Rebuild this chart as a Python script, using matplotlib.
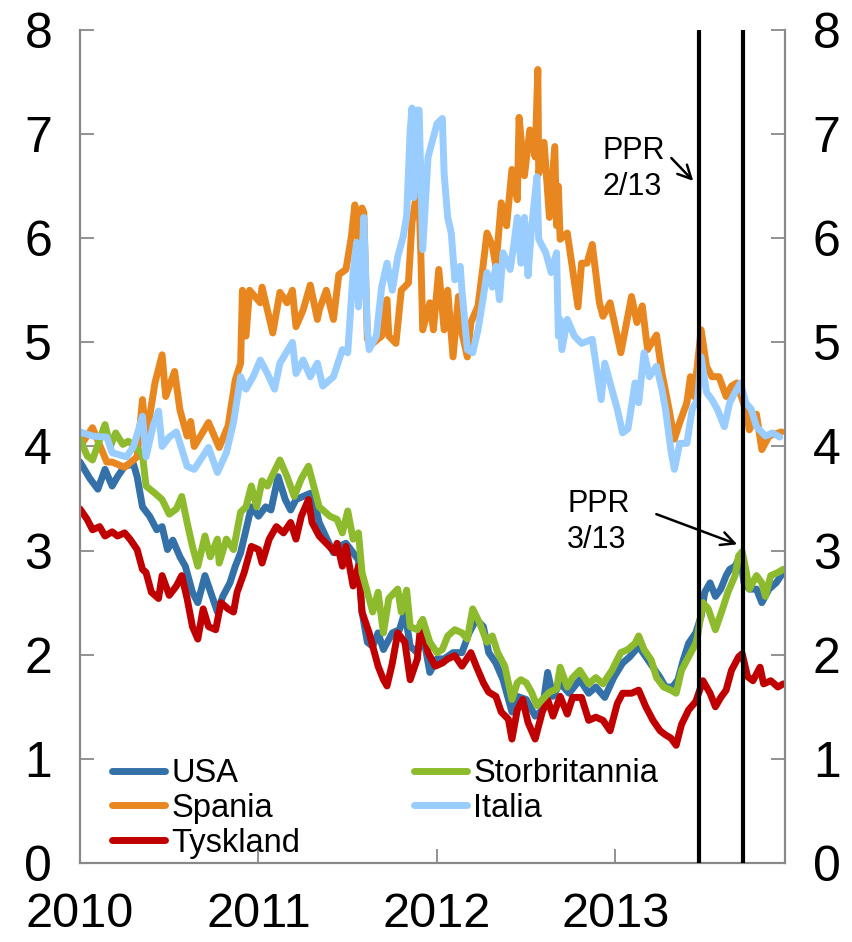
import matplotlib
matplotlib.use("Agg")
import matplotlib.pyplot as plt

plt.rcParams.update({
    "font.family": ["Liberation Sans", "DejaVu Sans"],
})

# ---------------------------------------------------------------------------
# Data: 10-year government bond yields (decimal years)
# ---------------------------------------------------------------------------

usa_t = [2010.00, 2010.056, 2010.10, 2010.14, 2010.18, 2010.21, 2010.25, 2010.30, 2010.32, 2010.35,
         2010.39, 2010.43, 2010.46, 2010.49, 2010.52, 2010.56, 2010.59, 2010.63, 2010.66, 2010.70,
         2010.74, 2010.77, 2010.80, 2010.84, 2010.87, 2010.90, 2010.93, 2010.96, 2011.00, 2011.04,
         2011.07, 2011.11, 2011.15, 2011.18, 2011.21, 2011.25, 2011.29, 2011.32, 2011.34, 2011.42,
         2011.45, 2011.49, 2011.53, 2011.56, 2011.58, 2011.61, 2011.64, 2011.67, 2011.70, 2011.75,
         2011.79, 2011.82, 2011.85, 2011.89, 2011.92, 2011.96, 2012.00, 2012.04, 2012.09, 2012.14,
         2012.18, 2012.22, 2012.26, 2012.29, 2012.33, 2012.37, 2012.42, 2012.45, 2012.50, 2012.55,
         2012.59, 2012.62, 2012.65, 2012.69, 2012.74, 2012.80, 2012.85, 2012.89, 2012.94, 2012.99,
         2013.04, 2013.08, 2013.13, 2013.17, 2013.21, 2013.25, 2013.28, 2013.32, 2013.35, 2013.38,
         2013.41, 2013.45, 2013.48, 2013.50, 2013.53, 2013.56, 2013.59, 2013.62, 2013.64, 2013.67,
         2013.70, 2013.72, 2013.75, 2013.79, 2013.82, 2013.86, 2013.90, 2013.94]
usa_v = [3.85, 3.69, 3.59, 3.78, 3.62, 3.71, 3.81, 3.83, 3.71, 3.42,
         3.33, 3.20, 3.23, 3.01, 3.10, 2.94, 2.85, 2.60, 2.50, 2.76,
         2.56, 2.41, 2.56, 2.69, 2.85, 2.98, 3.20, 3.42, 3.33, 3.42,
         3.39, 3.71, 3.49, 3.39, 3.49, 3.52, 3.55, 3.42, 3.27, 2.98,
         3.04, 3.07, 2.98, 2.91, 2.41, 2.12, 2.08, 2.21, 2.05, 2.21,
         2.24, 2.41, 2.08, 2.02, 2.21, 1.83, 1.96, 1.96, 2.02, 2.02,
         2.21, 2.34, 2.27, 2.02, 1.92, 1.76, 1.45, 1.60, 1.57, 1.41,
         1.47, 1.83, 1.60, 1.73, 1.63, 1.76, 1.63, 1.69, 1.59, 1.78,
         1.92, 1.98, 2.08, 1.98, 1.88, 1.78, 1.69, 1.69, 1.76, 1.95,
         2.11, 2.21, 2.37, 2.60, 2.69, 2.56, 2.63, 2.76, 2.82, 2.85,
         2.95, 2.69, 2.63, 2.63, 2.50, 2.63, 2.69, 2.79]

spania_t = [2010.00, 2010.07, 2010.15, 2010.18, 2010.25, 2010.32, 2010.35, 2010.37, 2010.42, 2010.46,
            2010.48, 2010.53, 2010.56, 2010.60, 2010.62, 2010.64, 2010.72, 2010.78, 2010.83, 2010.87,
            2010.90, 2010.91, 2010.93, 2010.95, 2011.01, 2011.02, 2011.08, 2011.12, 2011.16, 2011.19,
            2011.21, 2011.25, 2011.29, 2011.33, 2011.34, 2011.38, 2011.42, 2011.45, 2011.49, 2011.52,
            2011.54, 2011.56, 2011.58, 2011.59, 2011.61, 2011.64, 2011.69, 2011.72, 2011.73, 2011.77,
            2011.80, 2011.84, 2011.86, 2011.88, 2011.895, 2011.91, 2011.92, 2011.96, 2011.98, 2012.01,
            2012.04, 2012.06, 2012.09, 2012.12, 2012.14, 2012.17, 2012.19, 2012.23, 2012.26, 2012.28,
            2012.31, 2012.33, 2012.36, 2012.39, 2012.42, 2012.45, 2012.46, 2012.49, 2012.52, 2012.55,
            2012.565, 2012.57, 2012.60, 2012.63, 2012.66, 2012.67, 2012.68, 2012.69, 2012.73, 2012.76,
            2012.79, 2012.81, 2012.84, 2012.87, 2012.91, 2012.93, 2012.97, 2013.01, 2013.03, 2013.09,
            2013.12, 2013.15, 2013.18, 2013.23, 2013.26, 2013.30, 2013.33, 2013.36, 2013.40, 2013.42,
            2013.44, 2013.48, 2013.51, 2013.54, 2013.58, 2013.62, 2013.65, 2013.68, 2013.73, 2013.75,
            2013.79, 2013.82, 2013.86, 2013.93]
spania_v = [4.00, 4.18, 3.85, 3.85, 3.80, 3.90, 4.45, 4.07, 4.61, 4.88,
            4.48, 4.72, 4.35, 4.10, 4.24, 4.00, 4.23, 3.99, 4.20, 4.64,
            4.80, 5.50, 5.06, 5.50, 5.38, 5.53, 5.09, 5.48, 5.38, 5.50,
            5.15, 5.31, 5.55, 5.22, 5.31, 5.50, 5.22, 5.65, 5.70, 6.01,
            6.32, 5.99, 6.29, 6.25, 5.03, 4.99, 5.06, 5.41, 5.06, 4.99,
            5.50, 5.57, 6.15, 6.37, 6.61, 5.82, 5.12, 5.38, 5.12, 5.70,
            5.12, 5.50, 4.86, 5.44, 5.09, 4.86, 5.19, 5.35, 5.76, 6.05,
            5.93, 5.73, 6.34, 6.12, 6.66, 6.37, 7.16, 6.60, 7.04, 6.78,
            7.62, 6.62, 6.92, 6.20, 6.88, 6.12, 6.50, 5.99, 6.05, 5.70,
            5.34, 5.76, 5.76, 5.94, 5.38, 5.25, 5.38, 5.06, 4.90, 5.44,
            5.19, 5.35, 4.93, 5.07, 4.71, 4.36, 4.07, 4.23, 4.42, 4.67,
            4.48, 5.12, 4.77, 4.67, 4.67, 4.48, 4.58, 4.61, 4.35, 4.16,
            4.31, 3.97, 4.10, 4.14]

tyskland_t = [2010.00, 2010.04, 2010.07, 2010.11, 2010.14, 2010.18, 2010.21, 2010.25, 2010.28, 2010.32,
              2010.35, 2010.37, 2010.40, 2010.44, 2010.46, 2010.50, 2010.54, 2010.57, 2010.60, 2010.63,
              2010.66, 2010.69, 2010.72, 2010.76, 2010.79, 2010.83, 2010.86, 2010.88, 2010.92, 2010.96,
              2011.00, 2011.02, 2011.06, 2011.10, 2011.14, 2011.18, 2011.21, 2011.24, 2011.28, 2011.30,
              2011.34, 2011.38, 2011.43, 2011.44, 2011.47, 2011.49, 2011.53, 2011.56, 2011.58, 2011.62,
              2011.67, 2011.70, 2011.72, 2011.75, 2011.78, 2011.82, 2011.85, 2011.89, 2011.91, 2011.95,
              2011.99, 2012.03, 2012.06, 2012.10, 2012.14, 2012.19, 2012.22, 2012.26, 2012.29, 2012.33,
              2012.36, 2012.40, 2012.42, 2012.45, 2012.48, 2012.51, 2012.55, 2012.59, 2012.62, 2012.65,
              2012.69, 2012.73, 2012.76, 2012.81, 2012.85, 2012.89, 2012.93, 2012.97, 2013.01, 2013.04,
              2013.09, 2013.13, 2013.17, 2013.21, 2013.25, 2013.28, 2013.31, 2013.34, 2013.37, 2013.41,
              2013.45, 2013.49, 2013.53, 2013.56, 2013.59, 2013.62, 2013.65, 2013.69, 2013.71, 2013.74,
              2013.77, 2013.81, 2013.83, 2013.87, 2013.91, 2013.94]
tyskland_v = [3.40, 3.30, 3.20, 3.23, 3.14, 3.18, 3.14, 3.17, 3.11, 3.01,
              2.82, 2.79, 2.60, 2.54, 2.76, 2.57, 2.66, 2.76, 2.54, 2.27,
              2.15, 2.44, 2.27, 2.24, 2.50, 2.44, 2.41, 2.60, 2.79, 3.04,
              3.01, 2.88, 3.11, 3.23, 3.17, 3.27, 3.11, 3.33, 3.49, 3.27,
              3.14, 3.07, 2.98, 3.07, 2.85, 3.04, 2.66, 2.85, 2.41, 2.21,
              1.89, 1.76, 1.70, 1.92, 2.21, 2.12, 1.76, 1.96, 2.31, 2.02,
              1.89, 1.92, 1.96, 1.99, 1.89, 2.02, 1.89, 1.73, 1.64, 1.60,
              1.45, 1.38, 1.19, 1.47, 1.57, 1.35, 1.19, 1.45, 1.57, 1.41,
              1.60, 1.43, 1.59, 1.59, 1.37, 1.40, 1.37, 1.27, 1.53, 1.63,
              1.63, 1.66, 1.50, 1.37, 1.27, 1.23, 1.20, 1.13, 1.33, 1.47,
              1.55, 1.75, 1.63, 1.50, 1.59, 1.66, 1.85, 1.98, 2.01, 1.79,
              1.75, 1.88, 1.72, 1.75, 1.69, 1.72]

storbritannia_t = [2010.00, 2010.04, 2010.07, 2010.14, 2010.17, 2010.20, 2010.24, 2010.27, 2010.31, 2010.35,
                   2010.37, 2010.42, 2010.46, 2010.50, 2010.54, 2010.57, 2010.60, 2010.63, 2010.66, 2010.70,
                   2010.73, 2010.77, 2010.78, 2010.82, 2010.86, 2010.90, 2010.93, 2010.96, 2010.99, 2011.02,
                   2011.05, 2011.08, 2011.12, 2011.16, 2011.20, 2011.24, 2011.28, 2011.32, 2011.34, 2011.40,
                   2011.44, 2011.47, 2011.50, 2011.53, 2011.56, 2011.58, 2011.61, 2011.64, 2011.67, 2011.70,
                   2011.73, 2011.78, 2011.80, 2011.83, 2011.85, 2011.89, 2011.92, 2011.96, 2012.00, 2012.03,
                   2012.06, 2012.10, 2012.14, 2012.17, 2012.20, 2012.24, 2012.28, 2012.31, 2012.34, 2012.38,
                   2012.42, 2012.45, 2012.47, 2012.50, 2012.53, 2012.56, 2012.59, 2012.63, 2012.67, 2012.69,
                   2012.73, 2012.76, 2012.80, 2012.85, 2012.89, 2012.93, 2012.98, 2013.03, 2013.07, 2013.11,
                   2013.13, 2013.16, 2013.20, 2013.23, 2013.27, 2013.31, 2013.34, 2013.37, 2013.41, 2013.45,
                   2013.46, 2013.49, 2013.52, 2013.56, 2013.60, 2013.63, 2013.67, 2013.69, 2013.71, 2013.73,
                   2013.75, 2013.79, 2013.82, 2013.84, 2013.87, 2013.91, 2013.94]
storbritannia_v = [4.07, 3.91, 3.87, 4.21, 4.00, 4.13, 4.02, 4.05, 4.00, 3.92,
                   3.62, 3.55, 3.49, 3.35, 3.40, 3.52, 3.27, 3.04, 2.85, 3.14,
                   2.94, 3.11, 2.88, 3.11, 3.01, 3.37, 3.42, 3.62, 3.42, 3.67,
                   3.62, 3.73, 3.87, 3.71, 3.52, 3.69, 3.81, 3.55, 3.42, 3.33,
                   3.30, 3.17, 3.38, 3.11, 3.17, 2.79, 2.60, 2.41, 2.60, 2.21,
                   2.54, 2.63, 2.41, 2.62, 2.27, 2.24, 2.34, 2.12, 2.02, 2.05,
                   2.18, 2.24, 2.21, 2.15, 2.44, 2.30, 2.12, 2.18, 2.02, 1.89,
                   1.57, 1.73, 1.76, 1.73, 1.64, 1.51, 1.57, 1.64, 1.67, 1.88,
                   1.69, 1.78, 1.85, 1.72, 1.78, 1.72, 1.85, 2.02, 2.05, 2.11,
                   2.18, 2.05, 1.95, 1.78, 1.69, 1.66, 1.63, 1.85, 1.98, 2.11,
                   2.18, 2.50, 2.44, 2.24, 2.44, 2.60, 2.76, 2.95, 2.99, 2.82,
                   2.63, 2.76, 2.69, 2.56, 2.76, 2.79, 2.82]

italia_t = [2010.00, 2010.07, 2010.15, 2010.18, 2010.26, 2010.30, 2010.35, 2010.37, 2010.41, 2010.44,
            2010.46, 2010.50, 2010.54, 2010.60, 2010.64, 2010.72, 2010.77, 2010.82, 2010.86, 2010.90,
            2010.93, 2010.97, 2011.01, 2011.05, 2011.09, 2011.12, 2011.19, 2011.21, 2011.25, 2011.29,
            2011.33, 2011.36, 2011.42, 2011.47, 2011.50, 2011.53, 2011.55, 2011.56, 2011.58, 2011.59,
            2011.61, 2011.62, 2011.66, 2011.69, 2011.72, 2011.75, 2011.78, 2011.81, 2011.83, 2011.85,
            2011.86, 2011.87, 2011.89, 2011.90, 2011.92, 2011.95, 2011.98, 2012.00, 2012.03, 2012.04,
            2012.06, 2012.08, 2012.10, 2012.13, 2012.14, 2012.17, 2012.20, 2012.23, 2012.26, 2012.28,
            2012.31, 2012.33, 2012.35, 2012.37, 2012.41, 2012.43, 2012.45, 2012.47, 2012.49, 2012.51,
            2012.53, 2012.56, 2012.57, 2012.61, 2012.64, 2012.67, 2012.68, 2012.69, 2012.70, 2012.73,
            2012.77, 2012.81, 2012.87, 2012.92, 2012.94, 2012.97, 2013.01, 2013.04, 2013.07, 2013.11,
            2013.13, 2013.16, 2013.19, 2013.23, 2013.26, 2013.28, 2013.31, 2013.33, 2013.36, 2013.40,
            2013.43, 2013.46, 2013.48, 2013.51, 2013.54, 2013.57, 2013.61, 2013.64, 2013.68, 2013.70,
            2013.73, 2013.76, 2013.79, 2013.84, 2013.88, 2013.92]
italia_v = [4.14, 4.10, 4.09, 3.94, 3.90, 4.00, 4.29, 3.90, 4.20, 4.34,
            4.00, 4.09, 4.14, 3.81, 3.78, 3.99, 3.75, 3.94, 4.23, 4.67,
            4.55, 4.67, 4.83, 4.70, 4.55, 4.80, 5.00, 4.70, 4.83, 4.67,
            4.80, 4.58, 4.67, 4.93, 4.90, 5.67, 5.96, 5.34, 5.80, 6.20,
            5.12, 4.93, 5.06, 5.53, 5.76, 5.50, 5.82, 6.01, 6.21, 7.04,
            7.25, 6.39, 7.23, 7.23, 5.89, 6.78, 6.97, 7.10, 7.15, 6.62,
            6.20, 6.05, 5.60, 5.73, 5.50, 4.93, 4.90, 5.12, 5.44, 5.67,
            5.53, 5.73, 5.41, 5.86, 5.70, 5.93, 6.20, 5.76, 6.20, 5.64,
            6.10, 6.59, 5.99, 5.86, 5.67, 5.86, 5.06, 5.22, 4.93, 5.22,
            5.06, 4.99, 5.03, 4.45, 4.80, 4.61, 4.36, 4.13, 4.17, 4.61,
            4.42, 4.90, 4.67, 4.77, 4.55, 4.36, 3.97, 3.78, 4.03, 4.03,
            4.36, 4.45, 4.86, 4.52, 4.45, 4.36, 4.19, 4.42, 4.55, 4.61,
            4.42, 4.36, 4.19, 4.10, 4.13, 4.09]

# Monetary policy report dates (PPR 2/13 and PPR 3/13)
ppr_dates = [2013.466, 2013.715]
ppr_labels = ["PPR\n2/13", "PPR\n3/13"]
# label anchor (top left) and arrow start/end, in data units
ppr_text_pos = [(2012.93, 6.98), (2012.73, 3.59)]
ppr_arrow_from = [(2013.313, 6.77), (2013.229, 3.35)]
ppr_arrow_to = [(2013.436, 6.55), (2013.682, 3.06)]

years = [2010, 2011, 2012, 2013]

# ---------------------------------------------------------------------------
# Style
# ---------------------------------------------------------------------------

BLUE = "#3471A8"
ORANGE = "#E8861F"
RED = "#C00000"
GREEN = "#8DBB2D"
LIGHT_BLUE = "#99CCFF"
GRAY = "#898989"

fig = plt.figure(figsize=(8.52, 9.42), dpi=100)
ax = fig.add_axes([0.0939, 0.0839, 0.8275, 0.8843])

lw = 5.0
series = [
    (usa_t, usa_v, BLUE, "USA"),
    (spania_t, spania_v, ORANGE, "Spania"),
    (tyskland_t, tyskland_v, RED, "Tyskland"),
    (storbritannia_t, storbritannia_v, GREEN, "Storbritannia"),
    (italia_t, italia_v, LIGHT_BLUE, "Italia"),
]
for t, v, c, name in series:
    ax.plot(t, v, color=c, lw=lw, label=name, solid_joinstyle="round",
            solid_capstyle="round")

for d in ppr_dates:
    ax.axvline(d, color="black", lw=3, zorder=5)

ax.set_xlim(2010, 2013.95)
ax.set_ylim(0, 8)
ax.set_xticks(years)
ax.set_xticklabels([str(y) for y in years])
ax.set_yticks(range(0, 9))

for side in ("left", "right", "bottom"):
    ax.spines[side].set_color(GRAY)
    ax.spines[side].set_linewidth(1.6)
ax.spines["top"].set_visible(False)

ax.tick_params(axis="y", direction="in", length=10, width=1.3, color=GRAY,
               labelsize=36, pad=20, left=True, right=True, labelright=True)
ax.tick_params(axis="x", direction="in", length=10, width=1.3, color=GRAY,
               labelsize=35, pad=21)

# PPR annotations
for lab, pos, a0, a1 in zip(ppr_labels, ppr_text_pos, ppr_arrow_from, ppr_arrow_to):
    ax.text(pos[0], pos[1], lab, fontsize=22, ha="left", va="top",
            linespacing=1.25, zorder=6)
    ax.annotate("", xy=a1, xytext=a0,
                arrowprops=dict(arrowstyle="->", color="black", lw=1.8,
                                shrinkA=0, shrinkB=0, mutation_scale=24),
                zorder=6)

ax.legend(loc="upper left", bbox_to_anchor=(0.046, 0.126), ncol=2, frameon=False,
          fontsize=23.5, handlelength=1.6, handletextpad=0.2, labelspacing=0.12,
          columnspacing=3.5, borderpad=0, borderaxespad=0)

fig.savefig("out.png", dpi=100)
